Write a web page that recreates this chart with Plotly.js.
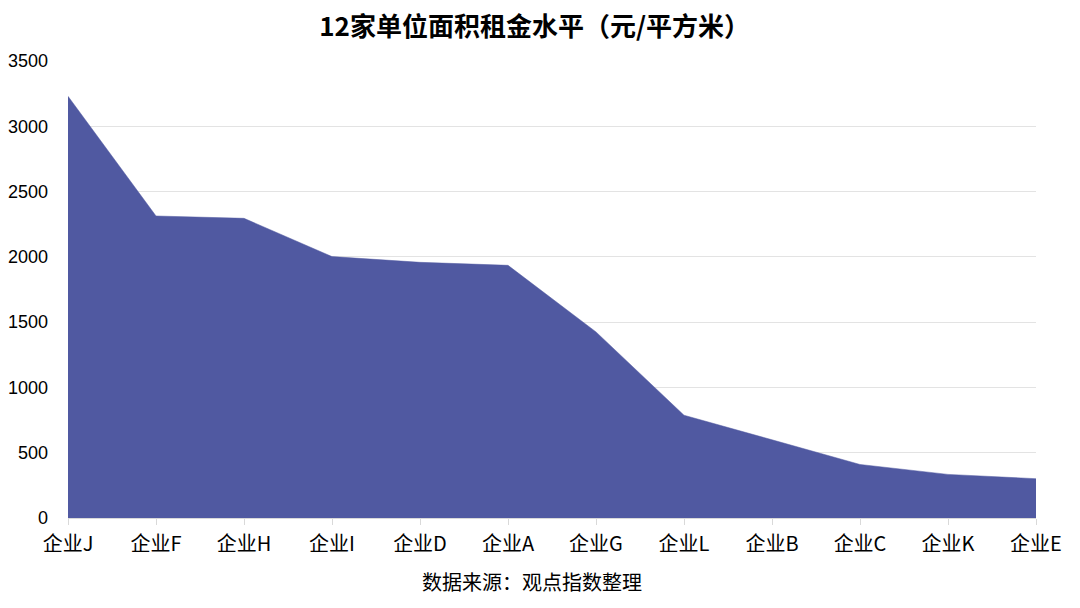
<!DOCTYPE html>
<html><head><meta charset="utf-8">
<script src="https://cdn.plot.ly/plotly-3.0.1.min.js"></script>
<style>html,body{margin:0;padding:0;background:#fff}#c{width:1080px;height:608px}</style>
</head><body><div id="c"></div>
<script>
const categories = ["企业J","企业F","企业H","企业I","企业D","企业A","企业G","企业L","企业B","企业C","企业K","企业E"];
const rentValues = [3230, 2313, 2295, 2002, 1958, 1935, 1425, 787, 599, 410, 334, 301];
const yTicks = [0, 500, 1000, 1500, 2000, 2500, 3000, 3500];

const trace = {
  type: 'scatter', mode: 'lines', x: categories, y: rentValues,
  fill: 'tozeroy', fillcolor: '#5059a1',
  line: {color: '#5059a1', width: 0.5}, hoverinfo: 'x+y'
};
const layout = {
  width: 1080, height: 608,
  margin: {l: 68, r: 44, t: 61, b: 90},
  paper_bgcolor: '#fff', plot_bgcolor: '#fff',
  showlegend: false,
  title: {text: '12家单位面积租金水平（元/平方米）', x: 0.495, xanchor: 'center', y: 0.955, yanchor: 'middle',
    font: {family: '"Noto Sans CJK SC", sans-serif', size: 26, color: '#000', weight: 'bold'}},
  xaxis: {
    type: 'category', range: [0, 11], showgrid: false,
    showline: true, linecolor: '#d9d9d9', linewidth: 1,
    ticks: 'outside', ticklen: 6, tickcolor: '#d9d9d9', tickwidth: 1,
    ticklabelstandoff: 2,
    tickfont: {family: '"Noto Sans CJK SC", sans-serif', size: 20, color: '#000'},
    zeroline: false, fixedrange: true
  },
  yaxis: {
    range: [0, 3500], tickvals: yTicks, ticktext: yTicks.map(String),
    showgrid: true, gridcolor: '#e3e3e3', gridwidth: 1,
    showline: false, zeroline: false, ticks: '',
    ticklabelstandoff: 19,
    tickfont: {family: '"Liberation Sans", Arial, sans-serif', size: 18, color: '#000'},
    fixedrange: true
  },
  annotations: [{
    text: '数据来源：观点指数整理', xref: 'paper', yref: 'paper', x: 0.479, y: -0.138,
    xanchor: 'center', yanchor: 'middle', showarrow: false,
    font: {family: '"Noto Sans CJK SC", sans-serif', size: 20, color: '#000'}
  }]
};
Plotly.newPlot('c', [trace], layout, {displayModeBar: false, staticPlot: true});
</script></body></html>
